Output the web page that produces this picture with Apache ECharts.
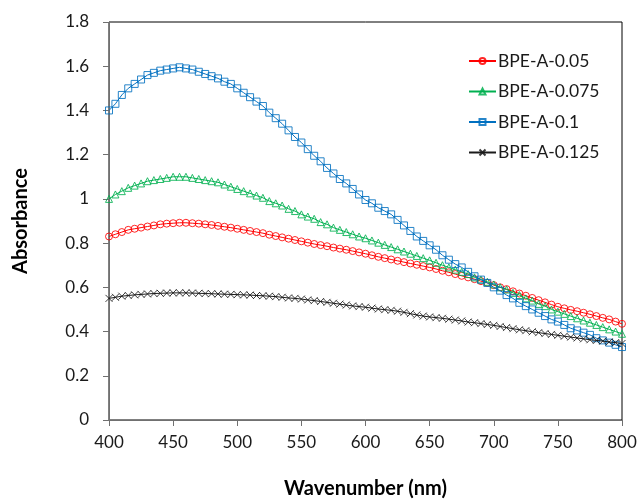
<!DOCTYPE html>
<html>
<head>
<meta charset="utf-8">
<script src="https://cdn.jsdelivr.net/npm/echarts@6/dist/echarts.min.js"></script>
<style>html,body{margin:0;padding:0;background:#fff;}#c{width:640px;height:499px;}</style>
</head>
<body>
<div id="c"></div>
<script>
// wavelength (nm), 400..800 step 5
const wavelengths = [400,405,410,415,420,425,430,435,440,445,450,455,460,465,470,475,480,485,490,495,500,505,510,515,520,525,530,535,540,545,550,555,560,565,570,575,580,585,590,595,600,605,610,615,620,625,630,635,640,645,650,655,660,665,670,675,680,685,690,695,700,705,710,715,720,725,730,735,740,745,750,755,760,765,770,775,780,785,790,795,800];
const seriesNames = ['BPE-A-0.05','BPE-A-0.075','BPE-A-0.1','BPE-A-0.125'];
const bpe005 = [0.83,0.84,0.85,0.86,0.865,0.87,0.875,0.88,0.885,0.888,0.89,0.892,0.892,0.89,0.888,0.885,0.882,0.878,0.874,0.87,0.865,0.86,0.855,0.85,0.845,0.838,0.832,0.826,0.82,0.814,0.808,0.802,0.796,0.791,0.786,0.78,0.775,0.77,0.764,0.758,0.752,0.745,0.738,0.732,0.726,0.72,0.714,0.708,0.702,0.696,0.69,0.683,0.675,0.668,0.66,0.652,0.645,0.637,0.628,0.62,0.61,0.6,0.592,0.582,0.572,0.562,0.552,0.542,0.532,0.522,0.512,0.505,0.498,0.492,0.485,0.478,0.47,0.462,0.455,0.445,0.435];
const bpe0075 = [1.0,1.02,1.035,1.05,1.06,1.07,1.08,1.085,1.09,1.095,1.1,1.1,1.1,1.095,1.09,1.085,1.08,1.075,1.065,1.055,1.045,1.035,1.025,1.015,1.005,0.99,0.98,0.97,0.955,0.945,0.93,0.92,0.91,0.895,0.885,0.87,0.86,0.85,0.84,0.83,0.822,0.812,0.802,0.792,0.782,0.772,0.762,0.752,0.742,0.732,0.722,0.711,0.7,0.69,0.68,0.67,0.66,0.645,0.635,0.625,0.613,0.6,0.59,0.575,0.565,0.55,0.54,0.525,0.515,0.5,0.49,0.48,0.47,0.46,0.45,0.44,0.43,0.42,0.41,0.4,0.39];
const bpe01 = [1.4,1.43,1.47,1.5,1.52,1.54,1.56,1.57,1.58,1.585,1.59,1.595,1.59,1.585,1.575,1.565,1.555,1.545,1.53,1.52,1.5,1.48,1.46,1.44,1.42,1.39,1.365,1.34,1.31,1.28,1.255,1.225,1.195,1.17,1.14,1.115,1.09,1.07,1.045,1.02,0.995,0.98,0.96,0.945,0.93,0.905,0.88,0.855,0.83,0.81,0.79,0.77,0.745,0.725,0.705,0.69,0.67,0.65,0.635,0.62,0.6,0.585,0.565,0.55,0.53,0.515,0.5,0.485,0.47,0.455,0.445,0.43,0.415,0.405,0.395,0.385,0.37,0.36,0.35,0.34,0.33];
const bpe0125 = [0.55,0.555,0.56,0.563,0.566,0.568,0.57,0.572,0.573,0.574,0.575,0.575,0.575,0.574,0.573,0.572,0.571,0.57,0.569,0.568,0.567,0.566,0.565,0.563,0.562,0.56,0.558,0.555,0.552,0.55,0.547,0.543,0.54,0.536,0.532,0.528,0.524,0.52,0.516,0.513,0.51,0.506,0.502,0.499,0.496,0.492,0.487,0.481,0.475,0.47,0.466,0.463,0.46,0.456,0.452,0.448,0.443,0.44,0.436,0.432,0.428,0.423,0.418,0.413,0.408,0.404,0.399,0.395,0.391,0.387,0.383,0.379,0.375,0.371,0.367,0.363,0.36,0.357,0.353,0.35,0.346];
const xTicks = [400,450,500,550,600,650,700,750,800];
const yTicks = [0,0.2,0.4,0.6,0.8,1,1.2,1.4,1.6,1.8];

const colors = ['#FF0000','#00B050','#0070C0','#1a1a1a'];
const symbols = ['circle','triangle','rect','path://M0,0L10,10M10,0L0,10'];
const allData = [bpe005,bpe0075,bpe01,bpe0125];
const FONT = 'Lato';

const chart = echarts.init(document.getElementById('c'), null, {renderer:'canvas'});
const series = seriesNames.map((name,i)=>({
  name: name,
  type: 'line',
  data: wavelengths.map((w,j)=>[w, allData[i][j]]),
  symbol: symbols[i],
  symbolSize: 7,
  showAllSymbol: true,
  lineStyle: {color: colors[i], width: 1},
  itemStyle: {color: 'rgba(255,255,255,0)', borderColor: colors[i], borderWidth: 1, opacity: 0.85},
  emphasis: {disabled: true},
  animation: false,
  z: 2 + i
}));

chart.setOption({
  animation: false,
  grid: {left: 109, right: 18, top: 22, bottom: 79, show: true, borderColor: '#000', borderWidth: 1,
         containLabel: false, outerBoundsMode: 'none'},
  legend: {
    orient: 'vertical', left: 463, top: 46,
    itemWidth: 27, itemHeight: 7.5, itemGap: 10.5,
    data: seriesNames,
    textStyle: {fontFamily: FONT, fontSize: 17.5, color: '#1a1a1a', lineHeight: 20, padding: [0,0,0,-3]},
    selectedMode: false
  },
  xAxis: {
    type: 'value', min: 400, max: 800, interval: 50,
    name: 'Wavenumber (nm)', nameLocation: 'middle', nameGap: 59,
    nameTextStyle: {fontFamily: FONT, fontSize: 20, fontWeight: 'bold', color: '#000'},
    axisLine: {show: true, lineStyle: {color: '#707070', width: 1}},
    axisTick: {show: true, inside: false, length: 6, lineStyle: {color: '#707070'}},
    axisLabel: {fontFamily: FONT, fontSize: 17, color: '#1a1a1a', margin: 14, formatter: v => String(v)},
    splitLine: {show: false}
  },
  yAxis: {
    type: 'value', min: 0, max: 1.8, interval: 0.2,
    name: 'Absorbance', nameLocation: 'middle', nameGap: 78,
    nameTextStyle: {fontFamily: FONT, fontSize: 20, fontWeight: 'bold', color: '#000'},
    axisLine: {show: true, lineStyle: {color: '#707070', width: 1}},
    axisTick: {show: true, inside: false, length: 6, lineStyle: {color: '#707070'}},
    axisLabel: {fontFamily: FONT, fontSize: 17, color: '#1a1a1a', margin: 20,
      formatter: v => { const t = yTicks.find(y => Math.abs(y - v) < 1e-6); return t === undefined ? '' : String(t); }},
    splitLine: {show: false}
  },
  series: series
});
</script>
</body>
</html>
